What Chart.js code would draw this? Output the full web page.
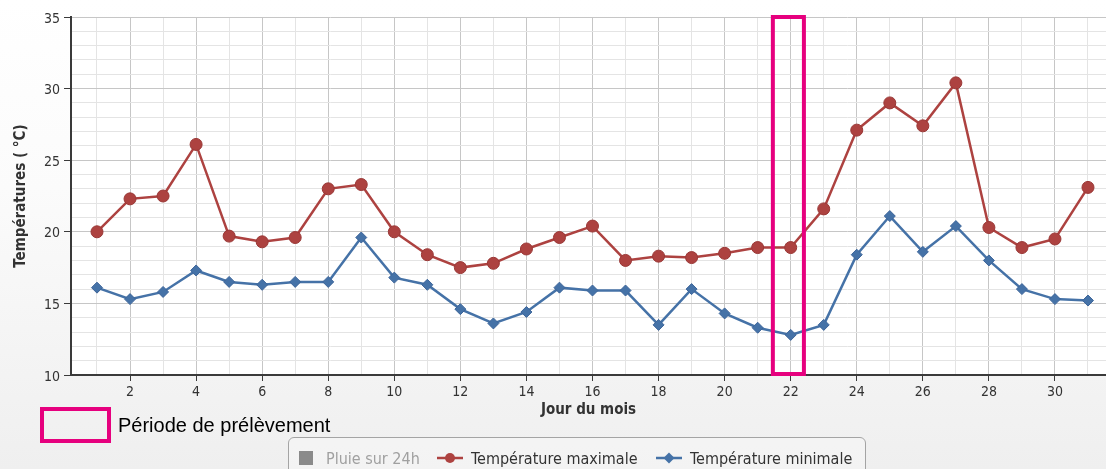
<!DOCTYPE html>
<html lang="fr">
<head>
<meta charset="utf-8">
<title>Températures journalières</title>
<script src="https://cdn.jsdelivr.net/npm/chart.js@4.4.1/dist/chart.umd.min.js"></script>
<style>
  html, body { margin: 0; padding: 0; }
  body {
    width: 1106px; height: 469px; overflow: hidden; position: relative;
    background: linear-gradient(to bottom, #ffffff 0%, #fbfbfb 40%, #efefef 100%);
    font-family: 'DejaVu Sans Condensed', 'DejaVu Sans', sans-serif;
  }
  #chart { position: absolute; left: 0; top: 0; }
  #period-key {
    position: absolute; left: 40px; top: 407px; width: 71px; height: 36px;
    box-sizing: border-box; border: 4px solid #E6007E;
  }
  #period-label {
    position: absolute; left: 118px; top: 413px; font: 20px 'Liberation Sans', Arial, sans-serif;
    color: #000; line-height: 24px; white-space: nowrap;
  }
  #legend {
    position: absolute; left: 288px; top: 437px; width: 578px; height: 44px;
    box-sizing: border-box; border: 1px solid #a4a4a4; border-radius: 6px;
    background: rgba(255,255,255,0.25);
  }
  .item { position: absolute; top: 10px; height: 20px; display: flex; align-items: center;
          font-size: 16px; color: #333; white-space: nowrap; }
  .item.hidden { color: #a0a0a0; }
  .item canvas { margin-right: 8px; }
  .item.hidden canvas { margin-right: 12px; }
</style>
</head>
<body>
<!-- the plot runs on past the right edge of the page, so the canvas is a little wider than the body -->
<canvas id="chart" width="1113" height="469"></canvas>
<div id="period-key"></div>
<div id="period-label">Période de prélèvement</div>
<div id="legend"></div>
<script>
// Day of month and daily temperatures (°C)
const days = [1, 2, 3, 4, 5, 6, 7, 8, 9, 10, 11, 12, 13, 14, 15, 16, 17, 18, 19, 20,
              21, 22, 23, 24, 25, 26, 27, 28, 29, 30, 31];
const tempMax = [20.0, 22.3, 22.5, 26.1, 19.7, 19.3, 19.6, 23.0, 23.3, 20.0, 18.4, 17.5, 17.8, 18.8, 19.6, 20.4,
                 18.0, 18.3, 18.2, 18.5, 18.9, 18.9, 21.6, 27.1, 29.0, 27.4, 30.4, 20.3, 18.9, 19.5, 23.1];
const tempMin = [16.1, 15.3, 15.8, 17.3, 16.5, 16.3, 16.5, 16.5, 19.6, 16.8, 16.3, 14.6, 13.6, 14.4, 16.1, 15.9,
                 15.9, 13.5, 16.0, 14.3, 13.3, 12.8, 13.5, 18.4, 21.1, 18.6, 20.4, 18.0, 16.0, 15.3, 15.2];
const seriesNames = ['Pluie sur 24h', 'Température maximale', 'Température minimale'];
const yTickLabels = [10, 15, 20, 25, 30, 35];
const xTickLabels = [2, 4, 6, 8, 10, 12, 14, 16, 18, 20, 22, 24, 26, 28, 30];
// Sampling period highlighted on the chart (day range)
const samplingPeriod = [21.46, 22.40];

const COLOR_MAX = '#AD4240';
const COLOR_MIN = '#4572A7';
const GRID_MAJOR = '#c6c6c6';
const GRID_MINOR = '#e4e4e4';
const AXIS = '#3a3a3a';
const FONT = "'DejaVu Sans Condensed', 'DejaVu Sans', sans-serif";

const toPoints = vals => days.map((d, i) => ({ x: d, y: vals[i] }));

const plotBackground = {
  id: 'plotBackground',
  beforeDraw(chart) {
    const { ctx, chartArea: a } = chart;
    ctx.save();
    ctx.fillStyle = '#ffffff';
    ctx.fillRect(a.left, a.top, a.right - a.left, a.bottom - a.top);
    ctx.restore();
  }
};

const samplingBox = {
  id: 'samplingBox',
  afterDatasetsDraw(chart) {
    const { ctx, scales: { x, y } } = chart;
    const l = x.getPixelForValue(samplingPeriod[0]);
    const r = x.getPixelForValue(samplingPeriod[1]);
    const t = y.getPixelForValue(y.max);
    const b = y.getPixelForValue(y.min) - 1;
    ctx.save();
    ctx.strokeStyle = '#E6007E';
    ctx.lineWidth = 4;
    ctx.strokeRect(l, t, r - l, b - t);
    ctx.restore();
  }
};

const chart = new Chart(document.getElementById('chart'), {
  type: 'line',
  data: {
    datasets: [
      {
        label: seriesNames[1], data: toPoints(tempMax),
        borderColor: COLOR_MAX, backgroundColor: COLOR_MAX, borderWidth: 2.5,
        pointStyle: 'circle', pointRadius: 6, pointBorderWidth: 1, pointBorderColor: '#9a3836',
        tension: 0
      },
      {
        label: seriesNames[2], data: toPoints(tempMin),
        borderColor: COLOR_MIN, backgroundColor: COLOR_MIN, borderWidth: 2.5,
        pointStyle: 'rectRot', pointRadius: 5.5, pointBorderWidth: 1, pointBorderColor: '#3d659a',
        tension: 0
      }
    ]
  },
  options: {
    responsive: false,
    animation: false,
    devicePixelRatio: 1,
    layout: { padding: { top: 17, right: 0, bottom: 50, left: 0 } },
    plugins: { legend: { display: false }, tooltip: { enabled: false } },
    scales: {
      x: {
        type: 'linear', min: 0.213, max: 31.545,
        afterBuildTicks: s => { s.ticks = days.map(d => ({ value: d })); },
        afterFit: s => { s.height = 44; },
        ticks: {
          autoSkip: false, maxRotation: 0, padding: 3, color: '#333',
          font: { family: FONT, size: 14 },
          callback: v => xTickLabels.includes(v) ? String(v) : ''
        },
        grid: {
          color: c => xTickLabels.includes(c.tick.value) ? GRID_MAJOR : GRID_MINOR,
          tickColor: c => xTickLabels.includes(c.tick.value) ? AXIS : 'rgba(0,0,0,0)',
          tickLength: 6, lineWidth: 1
        },
        border: { color: AXIS, width: 2 },
        title: { display: true, text: 'Jour du mois', color: '#333',
                 font: { family: FONT, size: 15, weight: 'bold' }, padding: { top: 0, bottom: 0 } }
      },
      y: {
        type: 'linear', min: 10, max: 35,
        afterBuildTicks: s => {
          const t = [];
          for (let v = 10; v <= 35; v++) t.push({ value: v });
          s.ticks = t;
        },
        afterFit: s => { s.width = 71; },
        ticks: {
          autoSkip: false, padding: 4, color: '#333', labelOffset: 2,
          font: { family: FONT, size: 14 },
          callback: v => yTickLabels.includes(v) ? String(v) : ''
        },
        grid: {
          color: c => yTickLabels.includes(c.tick.value) ? GRID_MAJOR : GRID_MINOR,
          tickColor: c => yTickLabels.includes(c.tick.value) ? AXIS : 'rgba(0,0,0,0)',
          tickLength: 7, lineWidth: 1
        },
        border: { color: AXIS, width: 2 },
        title: { display: true, text: 'Températures ( °C)', color: '#333',
                 font: { family: FONT, size: 15, weight: 'bold' }, padding: { top: 12, bottom: 0 } }
      }
    }
  },
  plugins: [plotBackground, samplingBox]
});

// Legend row, built from the series names and colours
function symbol(kind, color) {
  const c = document.createElement('canvas');
  const w = kind === 'square' ? 16 : 26, h = 16;
  c.width = w; c.height = h;
  const g = c.getContext('2d');
  if (kind === 'square') {
    g.fillStyle = color; g.fillRect(1, 1, 14, 14);
  } else {
    g.strokeStyle = color; g.lineWidth = 2.5;
    g.beginPath(); g.moveTo(0, 8); g.lineTo(w, 8); g.stroke();
    g.fillStyle = color; g.beginPath();
    if (kind === 'circle') { g.arc(13, 8, 5, 0, Math.PI * 2); }
    else { g.moveTo(13, 2.5); g.lineTo(18.5, 8); g.lineTo(13, 13.5); g.lineTo(7.5, 8); g.closePath(); }
    g.fill();
  }
  return c;
}
const legendItems = [
  { name: seriesNames[0], kind: 'square', color: '#8a8a8a', left: 9, hidden: true },
  { name: seriesNames[1], kind: 'circle', color: COLOR_MAX, left: 148 },
  { name: seriesNames[2], kind: 'diamond', color: COLOR_MIN, left: 367 }
];
const legend = document.getElementById('legend');
legendItems.forEach(it => {
  const el = document.createElement('div');
  el.className = 'item' + (it.hidden ? ' hidden' : '');
  el.style.left = it.left + 'px';
  el.appendChild(symbol(it.kind, it.color));
  const span = document.createElement('span');
  span.textContent = it.name;
  el.appendChild(span);
  legend.appendChild(el);
});
</script>
</body>
</html>
